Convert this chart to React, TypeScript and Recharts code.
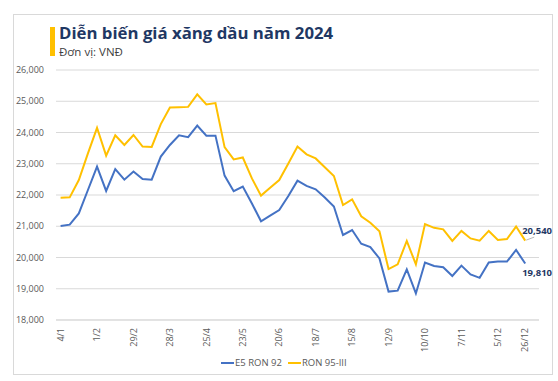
import React from 'react';
import { CartesianGrid, LabelList, Line, LineChart, XAxis, YAxis } from 'recharts';

const DATES = [
  '4/1', '11/1', '18/1', '25/1', '1/2', '8/2', '15/2', '22/2', '29/2', '7/3', '14/3', '21/3', '28/3',
  '4/4', '11/4', '18/4', '25/4', '2/5', '9/5', '16/5', '23/5', '30/5', '6/6', '13/6', '20/6', '27/6',
  '4/7', '11/7', '18/7', '25/7', '1/8', '8/8', '15/8', '22/8', '29/8', '5/9', '12/9', '19/9', '26/9',
  '3/10', '10/10', '17/10', '24/10', '31/10', '7/11', '14/11', '21/11', '28/11', '5/12', '12/12', '19/12', '26/12',
];

const TICK_LABELS = ['4/1', '1/2', '29/2', '28/3', '25/4', '23/5', '20/6', '18/7', '15/8', '12/9', '10/10', '7/11', '5/12', '26/12'];

const E5_RON92 = [
  21010, 21050, 21410, 22160, 22910, 22130, 22830, 22490, 22750, 22510, 22490, 23230, 23600,
  23910, 23850, 24220, 23900, 23900, 22620, 22120, 22270, 21730, 21160, 21340, 21520, 21970,
  22460, 22290, 22180, 21920, 21630, 20720, 20880, 20440, 20330, 19970, 18910, 18940, 19620,
  18850, 19840, 19730, 19690, 19410, 19740, 19460, 19350, 19840, 19870, 19870, 20240, 19810,
];

const RON95_III = [
  21910, 21925, 22480, 23330, 24150, 23260, 23910, 23600, 23920, 23550, 23540, 24270, 24800,
  24810, 24820, 25220, 24900, 24940, 23530, 23140, 23200, 22530, 21980, 22230, 22480, 23010,
  23550, 23300, 23170, 22890, 22610, 21680, 21860, 21320, 21110, 20840, 19630, 19780, 20530,
  19780, 21070, 20950, 20900, 20530, 20850, 20610, 20540, 20850, 20560, 20590, 20990, 20540,
];

const Y_TICKS = [18000, 19000, 20000, 21000, 22000, 23000, 24000, 25000, 26000];

const SERIES = [
  { key: 'e5', name: 'E5 RON 92', color: '#4472C4' },
  { key: 'r95', name: 'RON 95-III', color: '#FFC000' },
];

const data = DATES.map((date, i) => ({ date, e5: E5_RON92[i], r95: RON95_III[i] }));

const FONT = '"Open Sans", "Noto Sans", sans-serif';
const LAST = DATES.length - 1;

function XTick({ x, y, payload }: any) {
  if (!TICK_LABELS.includes(payload.value)) return null;
  return (
    <g transform={`translate(${x},${y})`}>
      <text transform="rotate(-90)" textAnchor="end" dy="0.35em" fontSize={9} fill="#595959" fontFamily={FONT}>
        {payload.value}
      </text>
    </g>
  );
}

function endLabel(below: boolean) {
  return (props: any) => {
    const { x, y, value, index } = props;
    if (index !== LAST) return null;
    const text = Number(value).toLocaleString('en-US');
    return (
      <g>
        {!below && <line x1={x + 1} y1={y - 0.5} x2={x + 9} y2={y - 3.5} stroke="#a6a6a6" strokeWidth={0.8} />}
        <text x={x - 3} y={below ? y + 12.5 : y - 7} fontSize={9.5} fontWeight={700} fill="#1F3864" fontFamily={FONT}>
          {text}
        </text>
      </g>
    );
  };
}

export default function App() {
  return (
    <div style={{ position: 'absolute', left: 0, top: 0, width: 558, height: 381, background: '#fff', fontFamily: FONT }}>
      <div
        style={{
          position: 'absolute',
          left: 13,
          top: 14,
          width: 538,
          height: 359,
          border: '1px solid #d9d9d9',
        }}
      />
      <div style={{ position: 'absolute', left: 50, top: 27, width: 4.5, height: 29, background: '#FFC000' }} />
      <div
        style={{
          position: 'absolute',
          left: 59,
          top: 22,
          fontSize: 16.8,
          fontWeight: 700,
          color: '#1F3864',
          whiteSpace: 'nowrap',
          lineHeight: '21px',
        }}
      >
        Diễn biến giá xăng dầu năm 2024
      </div>
      <div style={{ position: 'absolute', left: 59, top: 45, fontSize: 11.5, color: '#404040', lineHeight: '14px' }}>
        Đơn vị: VNĐ
      </div>

      <LineChart
        width={558}
        height={381}
        data={data}
        margin={{ top: 70, right: 19, bottom: 0, left: 0 }}
        style={{ position: 'absolute', left: 0, top: 0 }}
      >
        <CartesianGrid vertical={false} stroke="#d9d9d9" />
        <XAxis
          dataKey="date"
          interval={0}
          height={61}
          tick={<XTick />}
          tickLine={false}
          tickSize={0}
          tickMargin={8}
          axisLine={{ stroke: '#d9d9d9' }}
          padding={{ left: 4.6, right: 13.8 }}
        />
        <YAxis
          width={56}
          domain={[18000, 26000]}
          ticks={Y_TICKS}
          tickFormatter={(v: number) => v.toLocaleString('en-US')}
          axisLine={false}
          tickLine={false}
          tickSize={0}
          tickMargin={12}
          tick={{ fontSize: 9, fill: '#595959', fontFamily: FONT }}
        />
        {SERIES.map((s, i) => (
          <Line
            key={s.key}
            type="linear"
            dataKey={s.key}
            name={s.name}
            stroke={s.color}
            strokeWidth={2}
            dot={false}
            activeDot={false}
            isAnimationActive={false}
          >
            <LabelList dataKey={s.key} content={endLabel(i === 0)} />
          </Line>
        ))}
      </LineChart>

      <div
        style={{
          position: 'absolute',
          left: 221,
          top: 356,
          display: 'flex',
          gap: 6,
          fontSize: 9.5,
          color: '#595959',
          lineHeight: '13px',
        }}
      >
        {SERIES.map((s) => (
          <div key={s.key} style={{ display: 'flex', alignItems: 'center' }}>
            <span style={{ display: 'inline-block', width: 13, height: 2, background: s.color, marginRight: 1 }} />
            <span>{s.name}</span>
          </div>
        ))}
      </div>
    </div>
  );
}
